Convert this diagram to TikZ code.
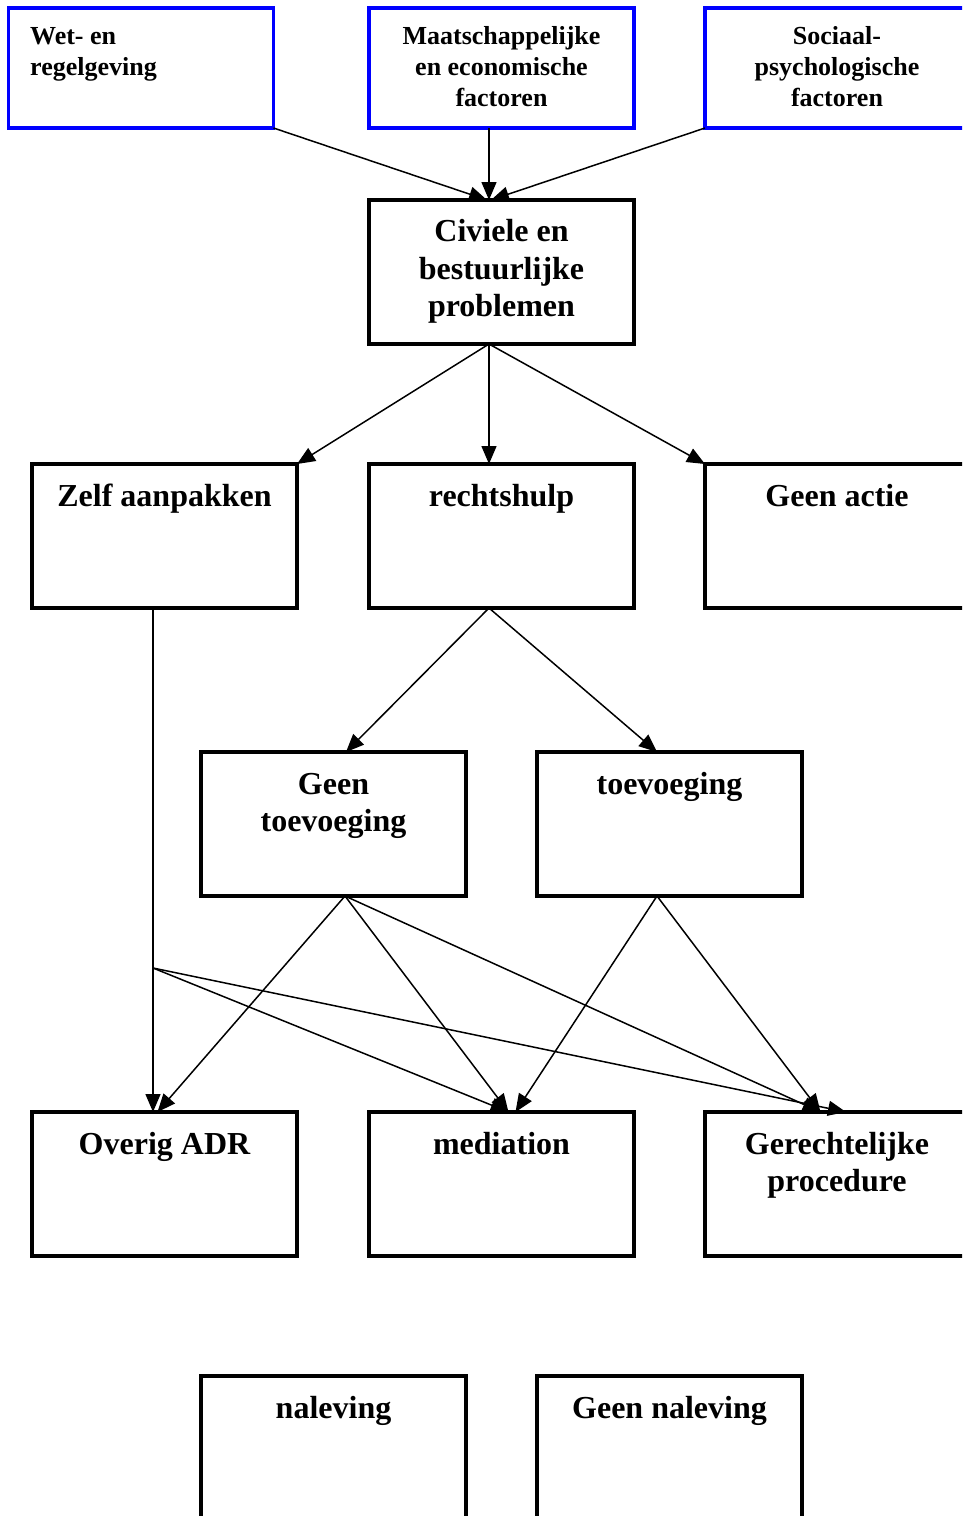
\documentclass[tikz,border=0pt]{standalone}
\usepackage{fontspec}
\setmainfont{Liberation Serif}
\usetikzlibrary{arrows.meta,calc}
\begin{document}
\begin{tikzpicture}[x=1pt,y=-1pt,
  box/.style={draw=black,line width=3.4pt,minimum width=265pt,minimum height=144pt,inner sep=0pt,outer sep=0pt},
  bluebox/.style={box,draw=blue,minimum height=120pt},
  big/.style={font=\fontsize{32}{37.5}\selectfont\bfseries,align=center,inner sep=0pt,anchor=base},
  small/.style={font=\fontsize{26}{31}\selectfont\bfseries,align=center,inner sep=0pt,anchor=base},
  conn/.style={line width=1.5pt,-{Triangle[length=18pt,width=15pt]}},
  plainline/.style={line width=1.5pt}
]
\useasboundingbox (0,0) rectangle (962,1516);
\clip (0,0) rectangle (962,1516);
\fill[white] (0,0) rectangle (962,1516);

% top row (blue)
\node[bluebox] (wet) at (141,68) {};
\node[bluebox] (maat) at (501.5,68) {};
\node[bluebox] (soc) at (837.5,68) {};
\node[small,align=left,anchor=base west] (wett) at (30,75) {Wet- en\\regelgeving};
\node[small] (maatt) at (501.5,106) {Maatschappelijke\\en economische\\factoren};
\node[small] (soct) at (837,106) {Sociaal-\\psychologische\\factoren};

% problems
\node[box] (civ) at (501.5,272) {};
\node[big] (civt) at (501.5,316.5) {Civiele en\\bestuurlijke\\problemen};

% second row
\node[box] (zelf) at (164.5,536) {};
\node[box] (rech) at (501.5,536) {};
\node[box] (actie) at (837.5,536) {};
\node[big] (zelft) at (164.5,506) {Zelf aanpakken};
\node[big] (recht) at (501.5,506) {rechtshulp};
\node[big] (actiet) at (837,506) {Geen actie};

% third row
\node[box] (gtoe) at (333.5,824) {};
\node[box] (toe) at (669.5,824) {};
\node[big] (gtoet) at (333.5,831.5) {Geen\\toevoeging};
\node[big] (toet) at (669.5,794) {toevoeging};

% fourth row
\node[box] (adr) at (164.5,1184) {};
\node[box] (med) at (501.5,1184) {};
\node[box] (ger) at (837.5,1184) {};
\node[big] (adrt) at (164.5,1154) {Overig ADR};
\node[big] (medt) at (501.5,1154) {mediation};
\node[big] (gert) at (837,1191.5) {Gerechtelijke\\procedure};

% bottom row
\node[box] (nal) at (333.5,1448) {};
\node[box] (gnal) at (669.5,1448) {};
\node[big] (nalt) at (333.5,1418) {naleving};
\node[big] (gnalt) at (669.5,1418) {Geen naleving};

% ports
\coordinate (civin) at ($(civ.north)+(-12.5,0)$);
\coordinate (maatout) at ($(maat.south)+(-12.5,0)$);
\coordinate (civout) at ($(civ.south)+(-12.5,0)$);
\coordinate (rechin) at ($(rech.north)+(-12.5,0)$);
\coordinate (rechout) at ($(rech.south)+(-12.5,0)$);
\coordinate (gtoein) at ($(gtoe.north)+(12.5,0)$);
\coordinate (toein) at ($(toe.north)+(-12.5,0)$);
\coordinate (zelfout) at ($(zelf.south)+(-11.5,0)$);
\coordinate (adrin) at ($(adr.north)+(-11.5,0)$);
\coordinate (adrin2) at ($(adr.north)+(-7,0)$);
\coordinate (J) at (153,968);
\coordinate (gtoeout) at ($(gtoe.south)+(11.5,0)$);
\coordinate (toeout) at ($(toe.south)+(-12.5,0)$);
\coordinate (medin) at ($(med.north)+(7,0)$);
\coordinate (medin2) at ($(med.north)+(14,0)$);
\coordinate (gerin) at ($(ger.north)+(-17,0)$);
\coordinate (gerin2) at ($(ger.north)+(8.5,0)$);

% connectors
\draw[conn] (wet.south east) -- ($(civin)+(-2,0)$);
\draw[conn] (maatout) -- (civin);
\draw[conn] (soc.south west) -- ($(civin)+(2,0)$);

\draw[conn] (civout) -- (zelf.north east);
\draw[conn] (civout) -- (rechin);
\draw[conn] (civout) -- (actie.north west);

\draw[conn] (rechout) -- (gtoein);
\draw[conn] (rechout) -- (toein);

\draw[conn] (zelfout) -- (adrin);
\draw[conn] (J) -- (medin);
\draw[conn] (J) -- (gerin2);

\draw[conn] (gtoeout) -- (adrin2);
\draw[conn] (gtoeout) -- (medin);
\draw[conn] (gtoeout) -- (gerin);

\draw[conn] (toeout) -- (medin2);
\draw[conn] (toeout) -- (gerin);
\end{tikzpicture}
\end{document}
